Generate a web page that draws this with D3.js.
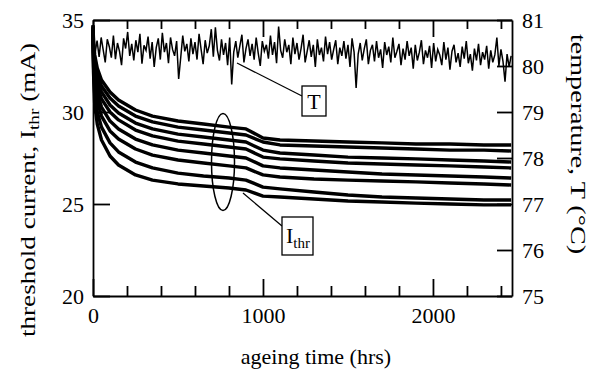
<!DOCTYPE html>
<html><head><meta charset="utf-8">
<script src="https://cdn.jsdelivr.net/npm/d3@7"></script>
<style>
body{margin:0;background:#fff}
svg{display:block}
</style></head>
<body><svg id="c" width="591" height="374" font-family="'Liberation Serif', 'DejaVu Serif', serif"></svg>
<script>
const SERIF = "Liberation Serif";
// ageing time sample points (hrs) for the threshold-current traces
const ithrHours = [0,3,10,25,50,100,150,250,350,500,650,800,900,1000,1100,1300,1500,1700,1900,2100,2300,2460];
// threshold current of the 8 lasers (mA), top to bottom
const ithr1 = [34.73,33.91,33.10,32.39,31.74,31.09,30.65,30.11,29.78,29.51,29.35,29.18,29.08,28.59,28.48,28.42,28.37,28.32,28.26,28.26,28.21,28.21];
const ithr2 = [34.67,33.70,32.83,32.07,31.41,30.76,30.33,29.78,29.46,29.18,29.02,28.86,28.75,28.37,28.21,28.15,28.10,28.04,27.99,27.93,27.93,27.88];
const ithr3 = [34.62,33.48,32.50,31.74,31.09,30.38,29.95,29.40,29.08,28.80,28.64,28.48,28.37,27.93,27.77,27.66,27.55,27.50,27.45,27.39,27.34,27.28];
const ithr4 = [34.57,33.26,32.17,31.41,30.71,30.00,29.57,29.02,28.70,28.42,28.26,28.10,27.99,27.55,27.45,27.34,27.23,27.17,27.12,27.07,27.01,26.96];
const ithr5 = [34.51,33.04,31.85,31.03,30.27,29.51,29.08,28.53,28.21,27.93,27.77,27.61,27.50,27.07,26.96,26.85,26.74,26.63,26.58,26.52,26.47,26.41];
const ithr6 = [34.46,32.83,31.47,30.60,29.78,28.97,28.53,27.99,27.66,27.39,27.23,27.07,26.96,26.58,26.47,26.36,26.30,26.25,26.20,26.14,26.09,26.03];
const ithr7 = [34.40,32.50,30.98,30.00,29.18,28.32,27.83,27.28,26.96,26.68,26.52,26.41,26.30,25.92,25.82,25.65,25.49,25.38,25.33,25.27,25.22,25.22];
const ithr8 = [34.35,32.17,30.43,29.35,28.48,27.61,27.12,26.58,26.30,26.09,25.98,25.87,25.76,25.43,25.38,25.27,25.16,25.11,25.05,25.00,24.95,24.95];
const ithrSeries = [ithr1,ithr2,ithr3,ithr4,ithr5,ithr6,ithr7,ithr8];

// oven temperature (deg C), sampled every 12 hrs from 0
const tempStepHrs = 12;
const temperature = [
80.10,80.28,80.55,80.20,80.62,80.35,80.08,80.58,80.42,80.18,
80.66,80.15,80.50,80.32,80.02,80.60,80.38,80.74,80.22,80.48,
80.12,80.56,80.30,80.70,80.05,80.45,80.34,80.64,80.16,80.52,
79.98,80.40,80.60,80.14,80.72,80.30,80.50,80.06,80.62,80.36,
80.22,80.54,79.72,80.18,80.66,80.32,80.48,80.10,80.60,80.26,
80.52,80.14,80.70,80.36,80.04,80.56,80.28,80.44,80.80,80.20,
80.84,80.34,80.12,80.58,80.24,80.50,80.02,80.62,79.60,80.30,
80.54,80.18,80.44,80.68,80.08,80.38,80.58,80.22,80.48,80.14,
80.62,80.28,80.00,80.54,80.32,80.46,80.16,80.66,80.24,80.52,
80.06,80.86,80.34,80.18,80.58,80.30,80.46,80.04,80.62,80.26,
80.50,80.14,80.38,80.68,80.08,80.32,80.56,80.20,80.46,79.98,
80.58,80.24,80.40,80.10,80.64,80.26,80.52,80.14,80.36,80.56,
80.04,80.40,80.22,80.54,80.16,80.46,79.98,80.60,80.30,79.52,
80.26,80.50,80.12,80.38,80.58,80.04,80.34,80.46,80.10,80.54,
80.18,80.36,79.96,80.52,80.24,80.42,80.08,80.62,80.18,80.32,
80.48,80.02,80.38,80.14,80.54,80.22,80.40,79.94,80.46,80.12,
80.30,80.56,80.04,80.34,80.18,80.44,79.96,80.50,80.10,80.36,
80.24,80.02,80.52,80.14,80.40,79.92,80.32,80.46,80.08,80.28,
79.98,80.42,80.16,80.54,80.06,80.26,79.90,80.38,80.12,80.48,
80.02,80.30,80.14,80.44,79.94,80.34,80.08,80.24,80.62,80.00,
80.36,80.10,79.66,80.26,79.98,80.22];

// axis ticks
const xMajorTicks = [0,1000,2000];
const xMinorTicks = [200,400,600,800,1200,1400,1600,1800,2200,2400];
const yLeftTicks = [20,25,30,35];
const yRightTicks = [75,76,77,78,79,80,81];

const svg = d3.select("#c");
const x = d3.scaleLinear().domain([0,2465]).range([93,512]);
const yL = d3.scaleLinear().domain([20,35]).range([296,20]);
const yR = d3.scaleLinear().domain([75,81]).range([296,20]);

// data
const lineI = d3.line().x((d,i)=>x(ithrHours[i])).y(d=>yL(d));
svg.append("g").selectAll("path").data(ithrSeries).join("path")
  .attr("d", lineI).attr("fill","none").attr("stroke","#000")
  .attr("stroke-width",3.4).attr("stroke-linejoin","round");

const lineT = d3.line().x((d,i)=>x(i*tempStepHrs)).y(d=>yR(d));
svg.append("path").datum(temperature).attr("d", lineT)
  .attr("fill","none").attr("stroke","#000").attr("stroke-width",1.5);

// axes
function style(g, sw){
  g.attr("font-family", SERIF).attr("font-size", 22);
  g.selectAll("path,line").attr("stroke","#000").attr("stroke-width",sw);
  g.selectAll("text").attr("fill","#000");
}
const fmt = d3.format("d");
svg.append("g").attr("transform","translate(0,296)")
  .call(d3.axisBottom(x).tickValues(xMajorTicks).tickSize(-17).tickSizeOuter(0).tickPadding(11).tickFormat(fmt))
  .call(g=>style(g,1.8));
svg.append("g").attr("transform","translate(0,296)")
  .call(d3.axisBottom(x).tickValues(xMinorTicks).tickSize(-10).tickSizeOuter(0).tickFormat(""))
  .call(g=>style(g,1.8)).select(".domain").remove();
svg.append("g").attr("transform","translate(0,20)")
  .call(d3.axisTop(x).tickValues(xMajorTicks).tickSize(-17).tickSizeOuter(0).tickFormat(""))
  .call(g=>style(g,1.8));
svg.append("g").attr("transform","translate(0,20)")
  .call(d3.axisTop(x).tickValues(xMinorTicks).tickSize(-9).tickSizeOuter(0).tickFormat(""))
  .call(g=>style(g,1.8)).select(".domain").remove();
svg.append("g").attr("transform","translate(93,0)")
  .call(d3.axisLeft(yL).tickValues(yLeftTicks).tickSize(-17).tickSizeOuter(0).tickPadding(9).tickFormat(fmt))
  .call(g=>style(g,1.8));
svg.append("g").attr("transform","translate(512,0)")
  .call(d3.axisRight(yR).tickValues(yRightTicks).tickSize(-15).tickSizeOuter(0).tickPadding(10).tickFormat(fmt))
  .call(g=>style(g,1.8));

// annotations
svg.append("ellipse").attr("cx",223).attr("cy",162).attr("rx",11.5).attr("ry",48.5)
  .attr("fill","none").attr("stroke","#000").attr("stroke-width",1.5);
svg.append("line").attr("x1",243).attr("y1",193).attr("x2",282).attr("y2",226).attr("stroke","#000").attr("stroke-width",1.3);
svg.append("rect").attr("x",282).attr("y",217).attr("width",31).attr("height",38).attr("fill","#fff").attr("stroke","#000").attr("stroke-width",1.3);
const it = svg.append("text").attr("font-family",SERIF).attr("x",286).attr("y",243).attr("font-size",22);
it.append("tspan").text("I");
it.append("tspan").attr("font-size",15).attr("dy",5).text("thr");

svg.append("line").attr("x1",237).attr("y1",63).attr("x2",302).attr("y2",96).attr("stroke","#000").attr("stroke-width",1.3);
svg.append("rect").attr("x",302).attr("y",86).attr("width",24).attr("height",30).attr("fill","#fff").attr("stroke","#000").attr("stroke-width",1.3);
svg.append("text").attr("font-family",SERIF).attr("x",314).attr("y",109).attr("text-anchor","middle").attr("font-size",22).text("T");

// titles
svg.append("text").attr("font-family",SERIF).attr("x",316).attr("y",364).attr("text-anchor","middle").attr("font-size",22).text("ageing time (hrs)");
const lt = svg.append("text").attr("font-family",SERIF).attr("transform","translate(35,190) rotate(-90)").attr("text-anchor","middle").attr("font-size",21)
  .attr("textLength",294).attr("lengthAdjust","spacingAndGlyphs");
lt.append("tspan").text("threshold current, I");
lt.append("tspan").attr("font-size",15).attr("dy",4).text("thr");
lt.append("tspan").attr("dy",-4).text(" (mA)");
svg.append("text").attr("font-family",SERIF).attr("transform","translate(571,144) rotate(90)").attr("text-anchor","middle").attr("font-size",21)
  .attr("textLength",220).attr("lengthAdjust","spacingAndGlyphs").text("temperature, T (\u00B0C)");
</script></body></html>
